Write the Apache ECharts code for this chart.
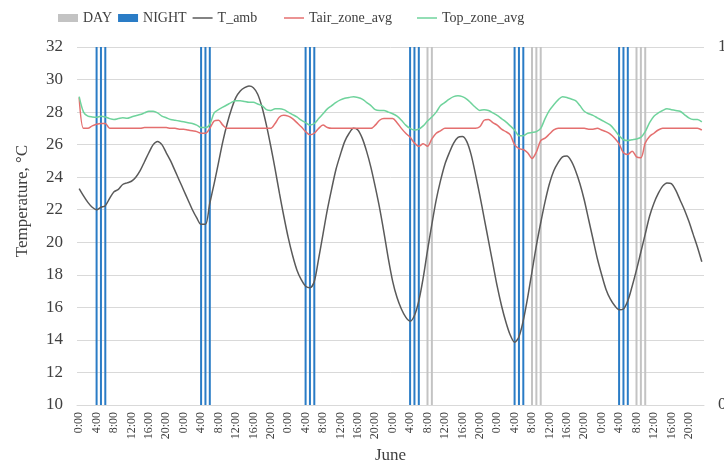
<!DOCTYPE html>
<html>
<head>
<meta charset="utf-8">
<script src="https://cdn.jsdelivr.net/npm/echarts@6/dist/echarts.min.js"></script>
<style>
  html, body { margin: 0; padding: 0; background: #fff; }
  #chart { width: 724px; height: 466px; }
</style>
</head>
<body>
<div id="chart"></div>
<script>
// hour labels of one day, the axis repeats them for every day of the run
const hourLabels = ['0:00','1:00','2:00','3:00','4:00','5:00','6:00','7:00','8:00','9:00','10:00','11:00',
  '12:00','13:00','14:00','15:00','16:00','17:00','18:00','19:00','20:00','21:00','22:00','23:00'];
const dayCount = 6;

// hourly temperatures, one row per day
const tAmb = [
  23.3, 22.85, 22.45, 22.15, 22.0, 22.15, 22.25, 22.7, 23.1, 23.25, 23.55, 23.65, 23.75, 24.0, 24.4, 24.95, 25.5, 26.0, 26.2, 26.0, 25.5, 25.0, 24.4, 23.8,
  23.2, 22.6, 22.0, 21.5, 21.1, 21.1, 22.4, 23.6, 24.9, 26.2, 27.3, 28.2, 28.9, 29.3, 29.5, 29.6, 29.5, 29.1, 28.3, 27.2, 25.9, 24.5, 23.0, 21.6,
  20.3, 19.2, 18.3, 17.7, 17.3, 17.2, 17.6, 19.0, 20.5, 22.0, 23.3, 24.5, 25.4, 26.2, 26.7, 27.0, 26.9, 26.4, 25.6, 24.6, 23.4, 22.1, 20.6, 19.0,
  17.6, 16.6, 15.9, 15.4, 15.15, 15.5, 16.4, 17.8, 19.5, 21.1, 22.6, 23.8, 24.8, 25.5, 26.1, 26.45, 26.5, 26.2, 25.4, 24.2, 22.9, 21.5, 20.1, 18.7,
  17.3, 16.1, 15.1, 14.3, 13.85, 14.2, 15.2, 16.6, 18.2, 19.8, 21.2, 22.5, 23.6, 24.4, 24.9, 25.25, 25.3, 25.0, 24.4, 23.6, 22.6, 21.4, 20.2, 19.0,
  18.0, 17.1, 16.5, 16.1, 15.85, 15.9, 16.4, 17.3, 18.3, 19.4, 20.5, 21.6, 22.4, 23.0, 23.45, 23.65, 23.6, 23.2, 22.6, 22.0, 21.3, 20.5, 19.7, 18.8
];
const tairZoneAvg = [
  28.9, 27.0, 27.0, 27.15, 27.25, 27.3, 27.3, 27.0, 27.0, 27.0, 27.0, 27.0, 27.0, 27.0, 27.0, 27.05, 27.05, 27.05, 27.05, 27.05, 27.05, 27.0, 27.0, 26.95,
  26.95, 26.9, 26.85, 26.8, 26.7, 26.7, 27.0, 27.45, 27.5, 27.2, 27.0, 27.0, 27.0, 27.0, 27.0, 27.0, 27.0, 27.0, 27.0, 27.0, 27.0, 27.3, 27.7, 27.8,
  27.75, 27.6, 27.35, 27.1, 26.8, 26.6, 26.7, 27.0, 27.2, 27.05, 27.0, 27.0, 27.0, 27.0, 27.0, 27.0, 27.0, 27.0, 27.0, 27.0, 27.2, 27.5, 27.6, 27.6,
  27.6, 27.35, 27.0, 26.7, 26.45, 26.1, 25.9, 26.05, 25.9, 26.35, 26.7, 26.85, 27.0, 27.0, 27.0, 27.0, 27.0, 27.0, 27.0, 27.0, 27.1, 27.5, 27.55, 27.35,
  27.2, 26.95, 26.8, 26.6, 26.0, 25.75, 25.7, 25.5, 25.15, 25.55, 26.25, 26.4, 26.65, 26.9, 27.0, 27.0, 27.0, 27.0, 27.0, 27.0, 27.0, 26.95, 26.95, 27.0,
  26.9, 26.8, 26.65, 26.4, 26.05, 25.5, 25.4, 25.6, 25.25, 25.2, 26.1, 26.5, 26.7, 26.9, 27.0, 27.0, 27.0, 27.0, 27.0, 27.0, 27.0, 27.0, 27.0, 26.9
];
const topZoneAvg = [
  28.95, 28.0, 27.75, 27.7, 27.68, 27.75, 27.7, 27.6, 27.55, 27.6, 27.65, 27.62, 27.7, 27.78, 27.85, 27.95, 28.05, 28.05, 27.95, 27.75, 27.65, 27.55, 27.5, 27.45,
  27.4, 27.35, 27.3, 27.2, 27.05, 27.05, 27.25, 27.95, 28.15, 28.3, 28.45, 28.6, 28.7, 28.7, 28.65, 28.6, 28.6, 28.5, 28.4, 28.15, 28.1, 28.2, 28.2, 28.15,
  28.0, 27.85, 27.7, 27.5, 27.35, 27.2, 27.3, 27.6, 27.9, 28.2, 28.4, 28.6, 28.75, 28.85, 28.9, 28.95, 28.9, 28.8, 28.6, 28.4, 28.15, 28.1, 28.1, 28.0,
  27.9, 27.75, 27.5, 27.2, 27.0, 26.9, 26.95, 27.15, 27.45, 27.7, 28.0, 28.4, 28.6, 28.8, 28.95, 29.0, 28.95, 28.8, 28.55, 28.3, 28.1, 28.15, 28.1, 27.95,
  27.8, 27.6, 27.4, 27.15, 26.9, 26.55, 26.55, 26.7, 26.75, 26.8, 27.0, 27.6, 28.1, 28.45, 28.75, 28.95, 28.9, 28.8, 28.7, 28.4, 28.05, 27.9, 27.8, 27.65,
  27.5, 27.35, 27.2, 26.9, 26.55, 26.3, 26.25, 26.3, 26.35, 26.45, 26.8, 27.35, 27.75, 27.95, 28.1, 28.2, 28.15, 28.1, 28.05, 27.85, 27.65, 27.55, 27.55, 27.4
];

// hour indexes (from the first 0:00) flagged as night / day on the 0-1 axis
const nightHours = [4, 5, 6, 28, 29, 30, 52, 53, 54, 76, 77, 78, 100, 101, 102, 124, 125, 126];
const dayHours = [80, 81, 104, 105, 106, 128, 129, 130];

let categories = [];
for (let d = 0; d < dayCount; d++) categories = categories.concat(hourLabels);

const flagData = hours => categories.map((_, i) => hours.includes(i) ? 1 : '-');

const serif = 'Liberation Serif';
const textColor = '#404040';
const lineIcon = 'path://M0 0H40V3H0Z';
const legendText = { fontFamily: serif, fontSize: 14, color: textColor };

let myChart = echarts.init(document.getElementById('chart'));
let option = {
  animation: false,
  backgroundColor: '#fff',
  legend: [
    {
      data: [{ name: 'DAY', icon: 'rect' }, { name: 'NIGHT', icon: 'rect' }, { name: 'T_amb', icon: lineIcon }],
      left: 53, top: 6, itemGap: 6, itemWidth: 20, itemHeight: 8,
      textStyle: legendText
    },
    {
      data: [{ name: 'Tair_zone_avg', icon: lineIcon }],
      left: 279, top: 6, itemWidth: 20, itemHeight: 8,
      textStyle: legendText
    },
    {
      data: [{ name: 'Top_zone_avg', icon: lineIcon }],
      left: 412, top: 6, itemWidth: 20, itemHeight: 8,
      textStyle: legendText
    }
  ],
  grid: { left: 77, right: 20, top: 47, bottom: 61, outerBoundsMode: 'none' },
  xAxis: {
    type: 'category',
    data: categories,
    boundaryGap: true,
    name: 'June',
    nameLocation: 'middle',
    nameGap: 42,
    nameTextStyle: { fontFamily: serif, fontSize: 17, color: textColor },
    axisLine: { lineStyle: { color: '#D9D9D9' } },
    axisTick: { interval: 3, length: 5, lineStyle: { color: '#D9D9D9' } },
    axisLabel: {
      interval: 3, rotate: 90, margin: 7,
      fontFamily: serif, fontSize: 12, color: textColor
    }
  },
  yAxis: [
    {
      type: 'value',
      min: 10, max: 32, interval: 2,
      name: 'Temperature, °C',
      nameLocation: 'middle',
      nameGap: 46,
      nameTextStyle: { fontFamily: serif, fontSize: 17, color: textColor, padding: [0, 0, 0, 50] },
      axisLine: { show: false },
      axisTick: { show: false },
      axisLabel: { margin: 14, fontFamily: serif, fontSize: 17, color: textColor },
      splitLine: { lineStyle: { color: '#D9D9D9' } }
    },
    {
      type: 'value',
      min: 0, max: 1, interval: 1,
      position: 'right',
      axisLine: { show: false },
      axisTick: { show: false },
      splitLine: { show: false },
      axisLabel: { margin: 14, fontFamily: serif, fontSize: 17, color: textColor }
    }
  ],
  series: [
    {
      name: 'DAY', type: 'bar', yAxisIndex: 1,
      barWidth: 2, barGap: '-100%',
      itemStyle: { color: '#C3C3C3' },
      data: flagData(dayHours)
    },
    {
      name: 'NIGHT', type: 'bar', yAxisIndex: 1,
      barWidth: 2, barGap: '-100%',
      itemStyle: { color: '#2A7CC6' },
      data: flagData(nightHours)
    },
    {
      name: 'T_amb', type: 'line', symbol: 'none', smooth: 0.3,
      lineStyle: { color: '#5A5A5A', width: 1.5 },
      itemStyle: { color: '#5A5A5A' },
      data: tAmb
    },
    {
      name: 'Tair_zone_avg', type: 'line', symbol: 'none', smooth: 0.3,
      lineStyle: { color: '#E46F6F', width: 1.5 },
      itemStyle: { color: '#E46F6F' },
      data: tairZoneAvg
    },
    {
      name: 'Top_zone_avg', type: 'line', symbol: 'none', smooth: 0.3,
      lineStyle: { color: '#6FD39C', width: 1.5 },
      itemStyle: { color: '#6FD39C' },
      data: topZoneAvg
    }
  ]
};
myChart.setOption(option);
</script>
</body>
</html>
